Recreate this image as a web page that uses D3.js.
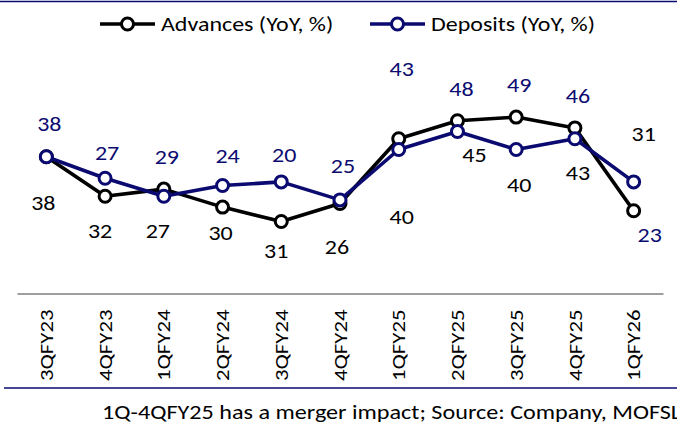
<!DOCTYPE html>
<html lang="en">
<head>
    <meta charset="UTF-8">
    <title>Advances vs Deposits</title>
    <style>
        body { margin: 0; background: #fff; }
        text { font-family: Carlito, Calibri, Lato, sans-serif; }
    </style>
</head>
<body>
<script src="https://d3js.org/d3.v7.min.js"></script>
<script>
    const categories = ['3QFY23', '4QFY23', '1QFY24', '2QFY24', '3QFY24', '4QFY24',
        '1QFY25', '2QFY25', '3QFY25', '4QFY25', '1QFY26'];
    const advances = [38, 27, 29, 24, 20, 25, 43, 48, 49, 46, 23];
    const deposits = [38, 32, 27, 30, 31, 26, 40, 45, 40, 43, 31];
    const footnote = '1Q-4QFY25 has a merger impact; Source: Company, MOFSL';

    const width = 677;
    const height = 425;
    const navy = '#0a0a70';
    const stretch = 1.2; // source text is wider than Lato at the same height

    // hand-placed label nudges (px), like the dragged labels in the original
    const advLabelDx = [3, 2, 3, 5, 3, 3, 3, 4, 3, 3, 16];
    const advLabelDy = [-33, -43, -32, -51, -67, -38, -70, -32, -32, -32, 24];
    const depLabelDx = [-3, -5, -6, -2, -5, -3, 3, 17, 3, 3, 10];
    const depLabelDy = [46, 53, 35, 47, 69, 47, 67, 23, 35, 34, -48];

    const svg = d3.select('body').append('svg').attr('width', width).attr('height', height);

    const x = d3.scaleBand().domain(categories).range([17, 663]);
    const cx = d => x(d) + x.bandwidth() / 2;
    const y = d3.scaleLinear().domain([0, 70]).range([293.5, 41.5]);

    // frame lines
    svg.append('line').attr('x1', 0).attr('x2', width).attr('y1', 1.5).attr('y2', 1.5)
        .attr('stroke', navy).attr('stroke-width', 1.3);
    svg.append('line').attr('x1', 4).attr('x2', width).attr('y1', 388).attr('y2', 388)
        .attr('stroke', navy).attr('stroke-width', 1.3);

    // x axis
    const xAxis = svg.append('g').attr('transform', 'translate(0,293.5)')
        .call(d3.axisBottom(x).tickSize(0).tickPadding(0));
    xAxis.select('.domain').attr('stroke', '#7f7f7f').attr('stroke-width', 1.4);
    xAxis.selectAll('text')
        .attr('transform', `rotate(-90) translate(-16,0) scale(${stretch},1)`)
        .attr('x', 0).attr('y', 0).attr('dy', '0.35em')
        .attr('text-anchor', 'end')
        .attr('font-size', 19).attr('fill', '#000')
        .style('font-family', 'Carlito, Calibri, Lato, sans-serif');

    const line = d3.line().x((d, i) => cx(categories[i])).y(d => y(d));

    const series = [
        {name: 'Advances (YoY, %)', values: advances, color: '#000'},
        {name: 'Deposits (YoY, %)', values: deposits, color: navy}
    ];

    series.forEach(s => {
        svg.append('path').datum(s.values).attr('d', line)
            .attr('fill', 'none').attr('stroke', s.color).attr('stroke-width', 3.6)
            .attr('stroke-linejoin', 'round');
        svg.append('g').selectAll('circle').data(s.values).join('circle')
            .attr('cx', (d, i) => cx(categories[i])).attr('cy', d => y(d))
            .attr('r', 6).attr('fill', '#fff')
            .attr('stroke', s.color).attr('stroke-width', 3);
    });

    // data labels (blue text carries advances values, black text deposits values, as in the source)
    svg.append('g').selectAll('text').data(advances).join('text')
        .attr('transform', (d, i) =>
            `translate(${cx(categories[i]) + advLabelDx[i]},${y(d) + advLabelDy[i]}) scale(${stretch},1)`)
        .attr('dy', '0.35em').attr('text-anchor', 'middle')
        .attr('font-size', 20).attr('fill', navy)
        .text(d => d);
    svg.append('g').selectAll('text').data(deposits).join('text')
        .attr('transform', (d, i) =>
            `translate(${cx(categories[i]) + depLabelDx[i]},${y(d) + depLabelDy[i]}) scale(${stretch},1)`)
        .attr('dy', '0.35em').attr('text-anchor', 'middle')
        .attr('font-size', 20).attr('fill', '#000')
        .text(d => d);

    // legend
    const legendX = [100, 370];
    series.forEach((s, i) => {
        const g = svg.append('g').attr('transform', `translate(${legendX[i]},24)`);
        g.append('line').attr('x1', 0).attr('x2', 55).attr('stroke', s.color).attr('stroke-width', 3.6);
        g.append('circle').attr('cx', 27.5).attr('r', 6).attr('fill', '#fff')
            .attr('stroke', s.color).attr('stroke-width', 3);
        g.append('text').attr('transform', `translate(61,0) scale(1.23,1)`).attr('dy', '0.35em')
            .attr('font-size', 19.5).attr('fill', '#000').text(s.name);
    });

    // footnote
    svg.append('text').attr('transform', `translate(102,412) scale(1.24,1)`).attr('dy', '0.35em')
        .attr('font-size', 19.5).attr('fill', '#000').text(footnote);
</script>
</body>
</html>
